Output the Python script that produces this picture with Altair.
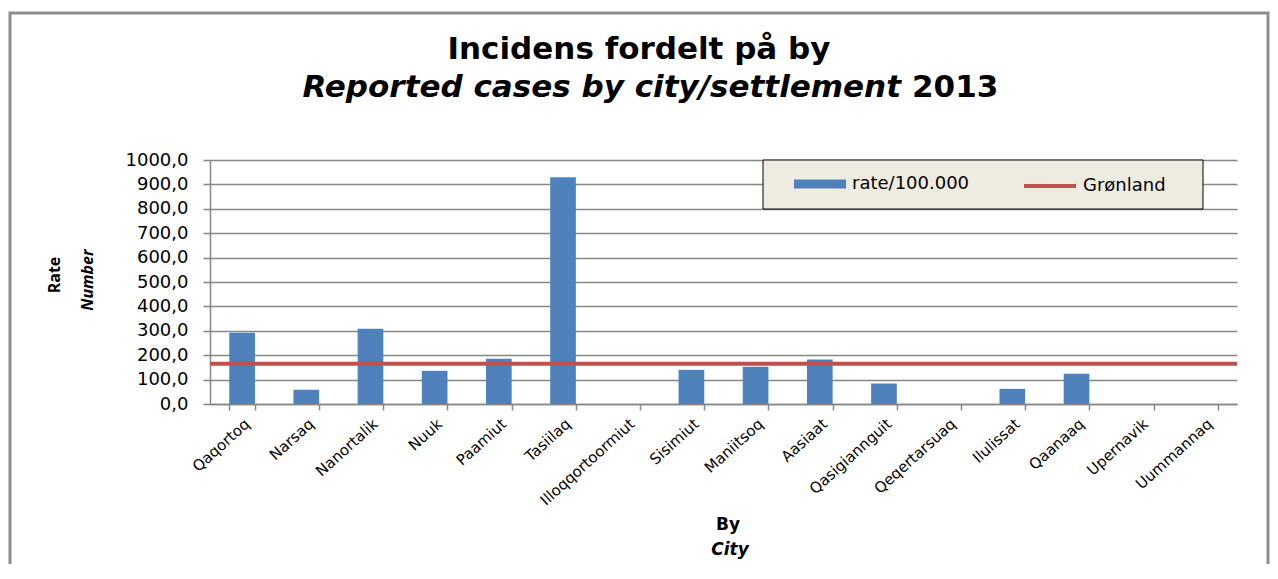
import altair as alt
import pandas as pd

# ---- data ----
cities = ["Qaqortoq", "Narsaq", "Nanortalik", "Nuuk", "Paamiut", "Tasiilaq",
          "Illoqqortoormiut", "Sisimiut", "Maniitsoq", "Aasiaat", "Qasigiannguit",
          "Qeqertarsuaq", "Ilulissat", "Qaanaaq", "Upernavik", "Uummannaq"]
rates = [292, 58, 308, 136, 185, 929, 0, 140, 153, 182, 84, 0, 62, 124, 0, 0]
greenland_rate = [165]
series_bar = "rate/100.000"
series_line = "Grønland"
y_ticks = [0, 100, 200, 300, 400, 500, 600, 700, 800, 900, 1000]

title_line1 = "Incidens fordelt på by"
title_line2_italic = "Reported cases by city/settlement"
title_line2_year = "2013"
y_title_main = "Rate"
y_title_sub = "Number"
x_title_main = "By"
x_title_sub = "City"

# ---- styling ----
W, H = 1027, 244
GRID = "#868686"
BLUE = "#4F81BD"
RED = "#C0504D"
TICK_FONT = "DejaVu Sans"
TITLE_FONT = "DejaVu Sans"

bars_df = pd.DataFrame({"city": cities, "rate": rates,
                        "series": [series_bar] * len(cities)})
line_df = pd.DataFrame({"rate": greenland_rate, "series": [series_line]})

y_scale = alt.Scale(domain=[0, 1000], nice=False)
y_axis = alt.Axis(title=None, values=y_ticks, labelOverlap=False,
                  labelExpr="replace(format(datum.value, '.1f'), '.', ',')",
                  labelFont=TICK_FONT, labelFontSize=18, labelColor="#000000",
                  labelPadding=15, tickSize=7, tickColor=GRID, tickWidth=1.5,
                  domainColor=GRID, domainWidth=1.5, grid=True,
                  gridColor=GRID, gridWidth=1.5)

x_enc = alt.X(
    "city:N", sort=cities,
    scale=alt.Scale(paddingInner=0.6, paddingOuter=0.3),
    axis=alt.Axis(title=None, tickBand="extent", labelAngle=-42,
                  labelAlign="right", labelBaseline="top",
                  labelFont=TICK_FONT, labelFontSize=15, labelColor="#000000",
                  labelPadding=6, tickSize=6, tickColor=GRID, tickWidth=1.5,
                  domainColor=GRID, domainWidth=1.5, grid=False,
                  labelOverlap=False),
)

bars = alt.Chart(bars_df).mark_bar().encode(
    x=x_enc,
    y=alt.Y("rate:Q", scale=y_scale, axis=y_axis),
    fill=alt.Fill("series:N",
                  scale=alt.Scale(domain=[series_bar], range=[BLUE]),
                  legend=alt.Legend(orient="none", legendX=584, legendY=-2,
                                    title=None, padding=0,
                                    symbolType="M-1,-0.17H1V0.17H-1Z",
                                    symbolSize=2704, symbolStrokeWidth=0,
                                    labelFont=TICK_FONT, labelFontSize=18,
                                    labelColor="#000000", labelOffset=6)),
)

rule = alt.Chart(line_df).mark_rule(strokeWidth=4).encode(
    y=alt.Y("rate:Q", scale=y_scale, axis=y_axis),
    stroke=alt.Stroke("series:N",
                      scale=alt.Scale(domain=[series_line], range=[RED]),
                      legend=alt.Legend(orient="none", legendX=812, legendY=-2,
                                        title=None, padding=0,
                                        symbolType="stroke", symbolSize=2704,
                                        symbolStrokeWidth=4,
                                        labelFont=TICK_FONT, labelFontSize=18,
                                        labelColor="#000000", labelOffset=5)),
)

legend_box = alt.Chart(alt.Data(values=[{}])).mark_rect(
    fill="#EEECE1", stroke="#000000", strokeWidth=1
).encode(x=alt.value(553), x2=alt.value(993), y=alt.value(0), y2=alt.value(49))

border = alt.Chart(alt.Data(values=[{}])).mark_rect(
    fillOpacity=0, stroke="#8C8C8C", strokeWidth=3
).encode(x=alt.value(-200), x2=alt.value(1058), y=alt.value(-147), y2=alt.value(430))


def text_layer(text, x, y, size, italic=False, angle=0, align="center",
               baseline="alphabetic", font=TITLE_FONT):
    kw = dict(font=font, fontSize=size, fontWeight="bold",
              align=align, baseline=baseline, color="#000000")
    if italic:
        kw["fontStyle"] = "italic"
    if angle:
        kw["angle"] = angle
    return alt.Chart(alt.Data(values=[{"t": text}])).mark_text(**kw).encode(
        text="t:N", x=alt.value(x), y=alt.value(y))


texts = [
    text_layer(title_line1, 429, -101, 31),
    text_layer(title_line2_italic, 691, -63, 31, italic=True, align="right"),
    text_layer(title_line2_year, 702, -63, 31, align="left"),
    text_layer(y_title_main, -155, 115, 16, angle=270, baseline="middle",
               font="Open Sans"),
    text_layer(y_title_sub, -122, 120, 16, italic=True, angle=270,
               baseline="middle", font="Open Sans"),
    text_layer(x_title_main, 518, 365, 17, baseline="middle"),
    text_layer(x_title_sub, 520, 390, 17, italic=True, baseline="middle"),
]

chart = alt.layer(border, legend_box, bars, rule, *texts).resolve_scale(
    fill="independent", stroke="independent"
).properties(
    width=W, height=H,
    autosize=alt.AutoSizeParams(type="none"),
    padding={"left": 202, "top": 152, "right": 33, "bottom": 160},
    background="white",
).configure_view(stroke=None)

chart.save("out.html", embed_options={"renderer": "svg", "actions": False})
